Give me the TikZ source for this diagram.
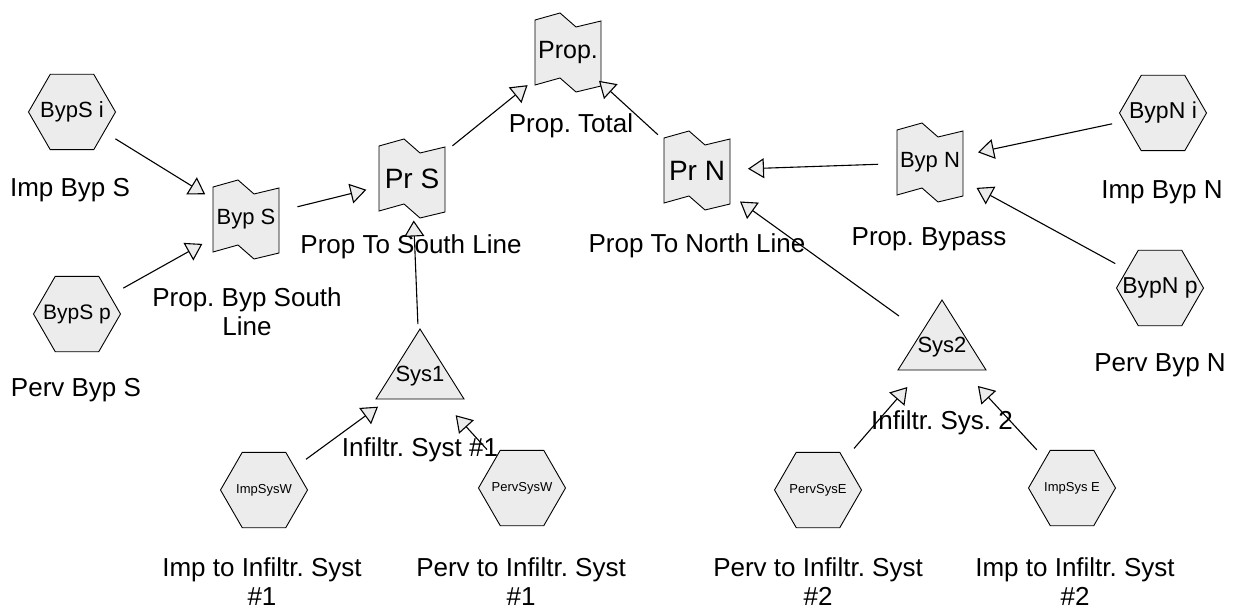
\documentclass[tikz,border=0pt]{standalone}
\usepackage{fontspec}
\setmainfont{Liberation Sans}
\usetikzlibrary{arrows.meta,backgrounds}
\definecolor{shapefill}{RGB}{236,236,236}
\frenchspacing

% flag-like outline with a notched top and bottom edge, around a node
\newcommand\drawtagbox[1]{%
  \path[outl] ([shift={(-33,-32.5)}]#1.center) -- ++(25,-7) -- ++(16,14) -- ++(25,-6)
    -- ++(0,65) -- ++(-25,6) -- ++(-16,-14) -- ++(-25,7) -- cycle;}
% triangle whose centroid is the node centre
\newcommand\drawtri[1]{%
  \path[outl] ([shift={(0,-47)}]#1.center) -- ++(44,70) -- ++(-88,0) -- cycle;}
% hexagon with flat top and bottom, pointed left and right
\newcommand\drawhex[1]{%
  \path[outl] ([shift={(-43.5,0)}]#1.center) -- ++(21.75,-37.7) -- ++(43.5,0)
    -- ++(21.75,37.7) -- ++(-21.75,37.7) -- ++(-43.5,0) -- cycle;}

\begin{document}
\begin{tikzpicture}[x=1pt,y=-1pt,
  outl/.style={draw=black, line width=0.9pt, fill=shapefill},
  hexa/.style={inner sep=0pt},
  tagnode/.style={inner sep=0pt, minimum width=66pt, minimum height=65pt},
  trinode/.style={inner sep=0pt},
  lbl/.style={font=\fontsize{26}{29.5}\selectfont, align=center, inner sep=0pt},
  conn/.style={line width=1.1pt, -{Triangle[length=16pt,width=20pt,fill=shapefill]},
    shorten <=52pt, shorten >=50pt},
]
\useasboundingbox (0,0) rectangle (1233,612);

% input hexagons
\node[hexa, font=\fontsize{22}{24}\selectfont] (bypsi) at (72,112) {BypS i};
\node[hexa, font=\fontsize{21}{24}\selectfont] (bypsp) at (77,314) {BypS p};
\node[hexa, font=\fontsize{23}{24}\selectfont] (bypni) at (1163,113) {BypN i};
\node[hexa, font=\fontsize{23}{24}\selectfont] (bypnp) at (1160,288) {BypN p};
\node[hexa, font=\fontsize{13}{15}\selectfont] (impsysw) at (264,490) {ImpSysW};
\node[hexa, font=\fontsize{13}{15}\selectfont] (pervsysw) at (522,488) {PervSysW};
\node[hexa, font=\fontsize{13}{15}\selectfont] (pervsyse) at (818,490) {PervSysE};
\node[hexa, font=\fontsize{13}{15}\selectfont] (impsyse) at (1072,488) {ImpSys E};

% proportion nodes
\node[tagnode, font=\fontsize{25}{28}\selectfont] (prop) at (568,52.5) {Prop.};
\node[tagnode, font=\fontsize{22}{24}\selectfont] (byps) at (246,219.5) {Byp S};
\node[tagnode, font=\fontsize{28}{30}\selectfont] (prs) at (412,178.5) {Pr S};
\node[tagnode, font=\fontsize{28}{30}\selectfont] (prn) at (697,170.5) {Pr N};
\node[tagnode, font=\fontsize{22}{24}\selectfont] (bypn) at (930,162.5) {Byp N};

% infiltration systems
\node[trinode, font=\fontsize{22}{24}\selectfont] (sys1) at (420,376) {Sys1};
\node[trinode, font=\fontsize{22}{24}\selectfont] (sys2) at (942,347) {Sys2};

\begin{scope}[on background layer]
  \fill[white] (0,0) rectangle (1233,612);
  \foreach \h in {bypsi,bypsp,bypni,bypnp,impsysw,pervsysw,pervsyse,impsyse}
    {\drawhex{\h}}
  \foreach \t in {prop,byps,prs,prn,bypn}
    {\drawtagbox{\t}}
  \drawtri{sys1}
  \drawtri{sys2}
\end{scope}

% captions
\node[lbl] (l-bypsi) at (70,190) {Imp Byp S};
\node[lbl] (l-bypsp) at (76,390) {Perv Byp S};
\node[lbl] (l-bypni) at (1162,192) {Imp Byp N};
\node[lbl] (l-bypnp) at (1160,365) {Perv Byp N};
\node[lbl] (l-prop) at (571,126) {Prop. Total};
\node[lbl] (l-prs) at (411,247) {Prop To South Line};
\node[lbl] (l-byps) at (247,311.5) {Prop. Byp South\\Line};
\node[lbl] (l-prn) at (697,246) {Prop To North Line};
\node[lbl] (l-bypn) at (929,239) {Prop. Bypass};
\node[lbl] (l-sys1) at (420,450) {Infiltr. Syst \#1};
\node[lbl] (l-sys2) at (942,423) {Infiltr. Sys. 2};
\node[lbl] (l-impsysw) at (262,581.5) {Imp to Infiltr. Syst\\\#1};
\node[lbl] (l-pervsysw) at (521,581.5) {Perv to Infiltr. Syst\\\#1};
\node[lbl] (l-pervsyse) at (818,581.5) {Perv to Infiltr. Syst\\\#2};
\node[lbl] (l-impsyse) at (1075,581.5) {Imp to Infiltr. Syst\\\#2};

% connectors
\draw[conn, shorten <=51pt, shorten >=48pt] (bypsi.center) -- (byps.center);
\draw[conn, shorten <=53pt, shorten >=50pt] (bypsp.center) -- (byps.center);
\draw[conn, shorten <=53pt, shorten >=47pt] (byps.center) -- (prs.center);
\draw[conn, shorten <=52pt, shorten >=52pt] (prs.center) -- (prop.center);
\draw[conn, shorten <=53pt, shorten >=42pt] (prn.center) -- (prop.center);
\draw[conn, shorten <=52pt, shorten >=51pt] (bypn.center) -- (prn.center);
\draw[conn, shorten <=52pt, shorten >=49pt] (bypni.center) -- (bypn.center);
\draw[conn, shorten <=51pt, shorten >=53pt] (bypnp.center) -- (bypn.center);
\draw[conn, shorten <=52pt, shorten >=42pt] (sys1.center) -- (prs.center);
\draw[conn, shorten <=53pt, shorten >=53pt] (sys2.center) -- (prn.center);
\draw[conn, shorten <=52pt, shorten >=52pt] (impsysw.center) -- (sys1.center);
\draw[conn, shorten <=52pt, shorten >=53pt] (pervsysw.center) -- (sys1.center);
\draw[conn, shorten <=55pt, shorten >=53pt] (pervsyse.center) -- (sys2.center);
\draw[conn, shorten <=52pt, shorten >=53pt] (impsyse.center) -- (sys2.center);
\end{tikzpicture}
\end{document}
